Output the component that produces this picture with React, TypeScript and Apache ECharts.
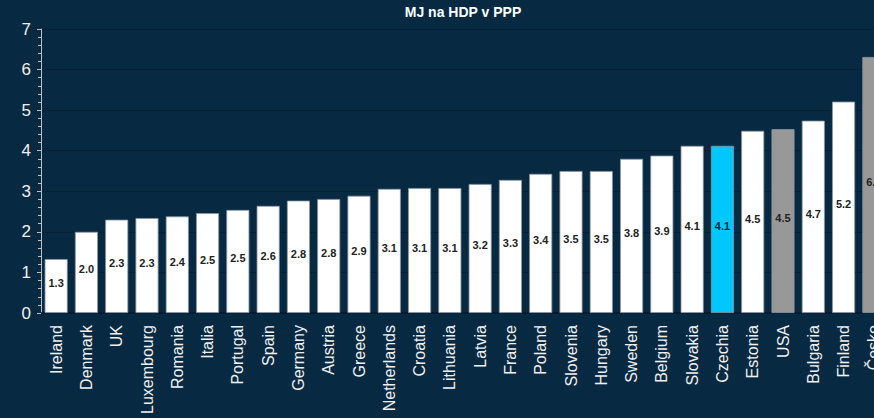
import React, { useEffect, useRef } from "react";
import * as echarts from "echarts";

const categories = [
  "Ireland", "Denmark", "UK", "Luxembourg", "Romania", "Italia", "Portugal", "Spain",
  "Germany", "Austria", "Greece", "Netherlands", "Croatia", "Lithuania", "Latvia", "France",
  "Poland", "Slovenia", "Hungary", "Sweden", "Belgium", "Slovakia", "Czechia", "Estonia",
  "USA", "Bulgaria", "Finland", "Česko",
];
const values = [
  1.33, 2.0, 2.3, 2.34, 2.38, 2.46, 2.54, 2.64,
  2.77, 2.81, 2.89, 3.06, 3.08, 3.08, 3.18, 3.28,
  3.43, 3.5, 3.5, 3.8, 3.88, 4.12, 4.12, 4.49,
  4.53, 4.74, 5.21, 6.31,
];
const highlightCyan = ["Czechia"];
const highlightGray = ["USA", "Česko"];
const titleText = "MJ na HDP v PPP";

export default function App() {
  const ref = useRef<HTMLDivElement>(null);
  useEffect(() => {
    if (!ref.current) return;
    const chart = echarts.init(ref.current, null, { renderer: "svg" });
    const data = values.map((v, i) => {
      const c = categories[i];
      let color = "#ffffff";
      if (highlightCyan.includes(c)) color = "#00c8fa";
      else if (highlightGray.includes(c)) color = "#989898";
      return { value: v, itemStyle: { color } };
    });
    chart.setOption({
      animation: false,
      backgroundColor: "#082942",
      textStyle: { fontFamily: "Liberation Sans" },
      graphic: [
        {
          type: "text",
          x: 463,
          y: 12,
          style: {
            text: titleText,
            fill: "#ffffff",
            font: "bold 14px 'Liberation Sans'",
            textAlign: "center",
            textVerticalAlign: "middle",
          },
        },
      ],
      grid: { left: 41, top: 29, width: 848, height: 284, containLabel: false, outerBoundsMode: "none" },
      xAxis: {
        type: "category",
        data: categories,
        axisLine: { lineStyle: { color: "#06182a", width: 1.5 } },
        axisTick: { alignWithLabel: true, length: 5, lineStyle: { color: "#c8c8c8" } },
        axisLabel: {
          rotate: 90,
          interval: 0,
          color: "#f0f0f0",
          fontSize: 16,
          margin: 12,
          fontFamily: "Liberation Sans",
        },
      },
      yAxis: {
        type: "value",
        min: 0,
        max: 7,
        interval: 1,
        axisLine: { show: true, lineStyle: { color: "#c0c0c0" } },
        axisTick: { show: true, length: 4, lineStyle: { color: "#c0c0c0" } },
        minorTick: { show: true, splitNumber: 5, length: 3, lineStyle: { color: "#c0c0c0" } },
        axisLabel: { color: "#f0f0f0", fontSize: 17, margin: 10, fontFamily: "Liberation Sans" },
        splitLine: { show: true, lineStyle: { color: "#04182a", type: "dotted", width: 1 } },
      },
      series: [
        {
          type: "bar",
          data,
          barCategoryGap: "24%",
          itemStyle: { borderColor: "#8c98a4", borderWidth: 0.8 },
          label: {
            show: true,
            position: "inside",
            offset: [0, -3],
            color: "#222222",
            fontSize: 11,
            fontWeight: "bold",
            fontFamily: "Liberation Sans",
            formatter: (p: any) => Number(p.value).toFixed(1),
          },
        },
      ],
    });
    return () => chart.dispose();
  }, []);
  return (
    <div style={{ position: "fixed", left: 0, top: 0, width: 874, height: 418, overflow: "hidden" }}>
      <div ref={ref} style={{ width: 900, height: 418 }} />
    </div>
  );
}
